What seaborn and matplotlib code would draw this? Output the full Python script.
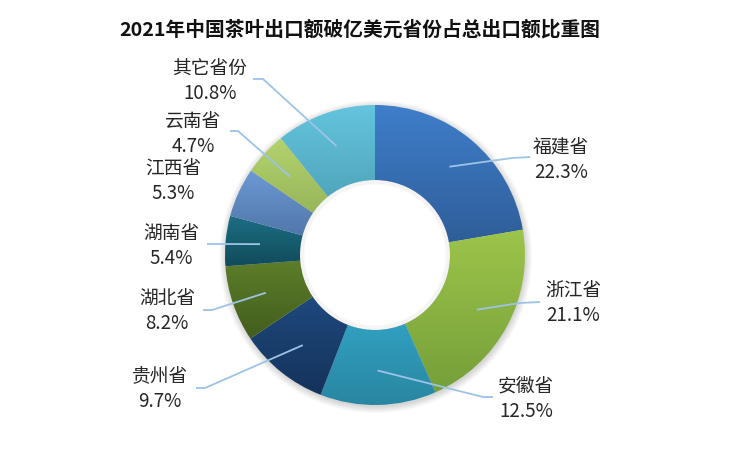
import matplotlib
matplotlib.use("Agg")
import matplotlib.pyplot as plt
import matplotlib.colors as mcolors
from matplotlib.patches import Circle
import numpy as np
import seaborn as sns

# data, clockwise from 12 o'clock
provinces = ["福建省", "浙江省", "安徽省", "贵州省", "湖北省", "湖南省", "江西省", "云南省", "其它省份"]
shares = [22.3, 21.1, 12.5, 9.7, 8.2, 5.4, 5.3, 4.7, 10.8]
title = "2021年中国茶叶出口额破亿美元省份占总出口额比重图"

# gradient colours per slice (top, bottom)
top_colors = ["#3F7ECB", "#9DC54B", "#3AB6D9", "#23518B", "#5F802B", "#1C6F85", "#6D99D4", "#B4D36E", "#64C4DE"]
bottom_colors = ["#2D5B94", "#759F39", "#2886A2", "#14335B", "#425D1D", "#114B5B", "#496D9E", "#87A54F", "#4393A7"]

# label layout in pixels: text centre, elbow, end of leader line (None = no line)
label_xy = [(561, 160), (573, 303), (526, 399), (160, 389), (167, 311), (171, 246), (173, 181), (193, 134), (210, 81)]
elbow_xy = [(512, 158), (520, 303), (483, 397), (205, 388), (212, 310), (215, 244), None, (238, 131), (263, 79)]
end_xy = [(530, 157), (540, 302), (493, 397), (196, 388), (203, 310), (207, 244), None, (230, 131), (253, 79)]

sns.set_theme(style="white")
plt.rcParams["font.family"] = ["Noto Sans CJK SC", "DejaVu Sans"]

W, H = 750, 450
CX, CY, R = 375, 255, 150


def to_data(p):
    return ((p[0] - CX) / R, (CY - p[1]) / R)


fig = plt.figure(figsize=(7.5, 4.5), dpi=100)
ax = fig.add_axes([0, 0, 1, 1])

# soft shadow around the ring
for i in range(7):
    ax.add_patch(Circle((0.005, -0.012), 1.0 + 0.007 * i, color="black",
                        alpha=0.025, lw=0, zorder=0))
ax.add_patch(Circle((0, 0), 0.5, color="white", lw=0, zorder=1))
for i in range(4):
    ax.add_patch(Circle((0, 0), 0.5 - 0.008 * i, fill=False, ec="black",
                        alpha=0.03, lw=1.2, zorder=1))

wedges, _ = ax.pie(shares, startangle=90, counterclock=False, radius=1.0,
                   wedgeprops=dict(width=0.5, linewidth=0))

for w, c_top, c_bot in zip(wedges, top_colors, bottom_colors):
    w.set_facecolor("none")
    verts = w.get_path().vertices
    x0, x1 = verts[:, 0].min(), verts[:, 0].max()
    y0, y1 = verts[:, 1].min(), verts[:, 1].max()
    cmap = mcolors.LinearSegmentedColormap.from_list("g", [c_bot, c_top])
    grad = np.linspace(1, 0, 256).reshape(-1, 1)
    im = ax.imshow(grad, cmap=cmap, extent=(x0, x1, y0, y1), aspect="auto",
                   interpolation="bilinear", zorder=2, origin="upper")
    im.set_clip_path(w)

# leader lines and labels
cum = np.cumsum([0] + shares[:-1])
for i, (name, val) in enumerate(zip(provinces, shares)):
    mid = np.deg2rad(90 - (cum[i] + val / 2) * 3.6)
    sx, sy = 0.77 * np.cos(mid), 0.77 * np.sin(mid)
    if end_xy[i] is not None:
        ex, ey = to_data(elbow_xy[i])
        fx, fy = to_data(end_xy[i])
        ax.plot([sx, ex, fx], [sy, ey, fy], color="#9DC3E6", lw=1.3, zorder=3,
                solid_capstyle="butt")
    tx, ty = to_data(label_xy[i])
    ax.text(tx, ty, f"{name}\n{val:.1f}%", ha="center", va="center",
            fontsize=13.5, color="#262626", linespacing=1.3, zorder=4)

tx, ty = to_data((360, 30))
ax.text(tx, ty, title, ha="center", va="center", fontsize=14.2,
        fontweight="bold", color="#111111")

# pie() resets the view, so fix the pixel mapping afterwards
ax.set_xlim(-CX / R, (W - CX) / R)
ax.set_ylim(-(H - CY) / R, CY / R)
ax.set_aspect("equal")
ax.axis("off")

fig.savefig("out.png", dpi=100)
